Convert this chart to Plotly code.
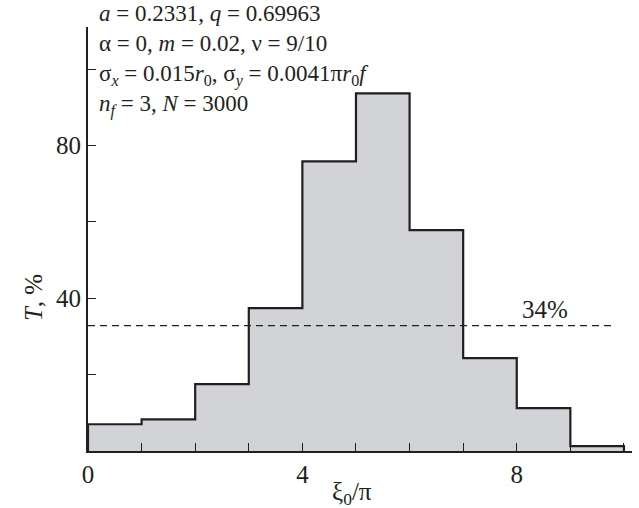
import plotly.graph_objects as go

# Data
bin_left = [0, 1, 2, 3, 4, 5, 6, 7, 8, 9]
bin_width = 1
T_values = [7.0, 8.3, 17.5, 37.4, 75.8, 93.6, 57.8, 24.3, 11.2, 1.3]
threshold = 32.8
threshold_label = "34%"
x_tickvals = [0, 4, 8]
x_minor_step = 1
y_tickvals = [40, 80]
y_minor_step = 20
info_lines = [
    "<i>a</i> = 0.2331, <i>q</i> = 0.69963",
    "α = 0, <i>m</i> = 0.02, ν = 9/10",
    "σ<sub><i>x</i></sub> = 0.015<i>r</i><sub>0</sub>, σ<sub><i>y</i></sub> = 0.0041π<i>r</i><sub>0</sub><i>f</i>",
    "<i>n<sub>f</sub></i> = 3, <i>N</i> = 3000",
]

FONT = "Liberation Serif"
INK = "#231f20"

# Build step outline from bins
xs = [bin_left[0]]
ys = [0]
for xl, h in zip(bin_left, T_values):
    xs.append(xl)
    ys.append(h)
xs.append(bin_left[-1] + bin_width)
ys.append(T_values[-1])
xs.append(bin_left[-1] + bin_width)
ys.append(0)

fig = go.Figure()
fig.add_trace(go.Scatter(
    x=xs, y=ys, mode="lines", line=dict(shape="hv", color=INK, width=2.2),
    fill="tozeroy", fillcolor="#d1d3d6", hoverinfo="skip", showlegend=False,
))
fig.add_trace(go.Scatter(
    x=[0, 9.8], y=[threshold, threshold], mode="lines",
    line=dict(color=INK, width=1.3, dash="7px,5px"), showlegend=False,
))

annotations = [dict(
    text="<br>".join(info_lines), xref="paper", yref="paper", x=0.016, y=1.066,
    xanchor="left", yanchor="top", align="left", showarrow=False,
    font=dict(family=FONT, size=23, color=INK),
)]
annotations.append(dict(
    text=threshold_label, xref="x", yref="y", x=8.53, y=threshold + 4.3,
    xanchor="center", yanchor="middle", showarrow=False,
    font=dict(family=FONT, size=25, color=INK),
))
annotations.append(dict(
    text="<i>T</i>, %", xref="paper", yref="paper", x=-0.1, y=0.362,
    textangle=-90, xanchor="center", yanchor="middle", showarrow=False,
    font=dict(family=FONT, size=25, color=INK),
))
annotations.append(dict(
    text="ξ<sub>0</sub>/π", xref="paper", yref="paper", x=0.485, y=-0.1,
    xanchor="center", yanchor="middle", showarrow=False,
    font=dict(family=FONT, size=25, color=INK),
))

tick_common = dict(
    ticks="inside", ticklen=8, tickwidth=1.3, tickcolor=INK,
    showline=True, linecolor=INK, linewidth=2.2, showgrid=False, zeroline=False,
    tickfont=dict(family=FONT, size=25, color=INK),
)

fig.update_layout(
    width=639, height=508,
    margin=dict(l=88, r=7, t=27, b=57),
    paper_bgcolor="white", plot_bgcolor="white",
    annotations=annotations,
    xaxis=dict(
        range=[0, 10.15], tickmode="array", tickvals=x_tickvals,
        minor=dict(tick0=0, dtick=x_minor_step, ticks="inside", ticklen=8,
                   tickwidth=1.3, tickcolor=INK, showgrid=False),
        **tick_common,
    ),
    yaxis=dict(
        range=[0, 111], tickmode="array", tickvals=y_tickvals,
        minor=dict(tick0=0, dtick=y_minor_step, ticks="inside", ticklen=8,
                   tickwidth=1.3, tickcolor=INK, showgrid=False),
        **tick_common,
    ),
)

fig.write_html("out.html")
